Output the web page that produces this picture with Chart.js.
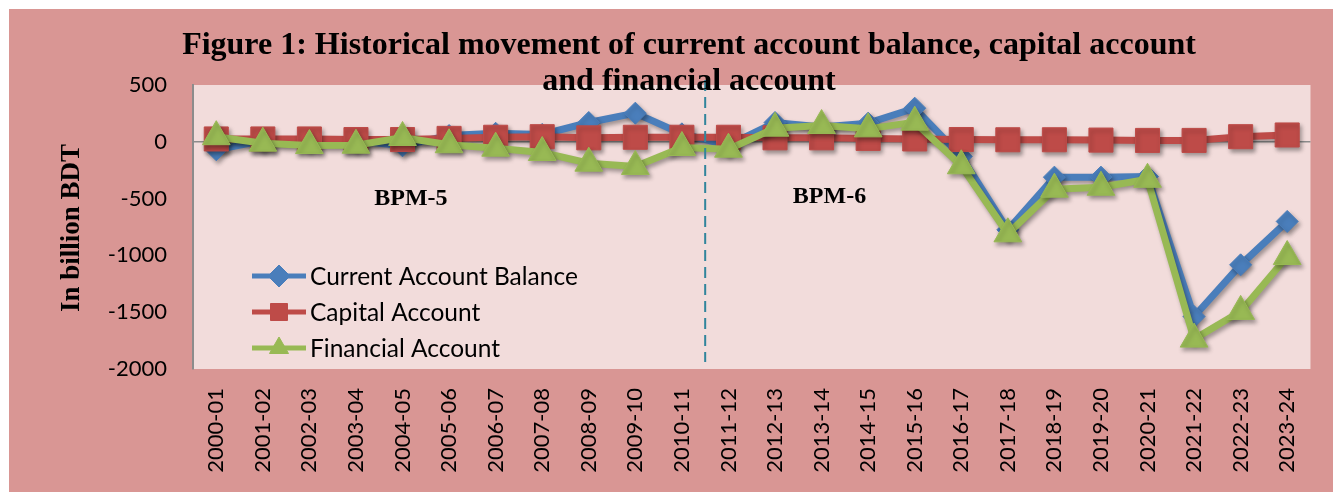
<!DOCTYPE html>
<html>
<head>
<meta charset="utf-8">
<script src="https://cdn.jsdelivr.net/npm/chart.js"></script>
<style>
  body { margin: 0; background: #fff; }
  canvas { display: block; }
</style>
</head>
<body>
<canvas id="bop_chart" width="1333" height="492"></canvas>
<script>
var years = ["2000-01", "2001-02", "2002-03", "2003-04", "2004-05", "2005-06", "2006-07", "2007-08",
    "2008-09", "2009-10", "2010-11", "2011-12", "2012-13", "2013-14", "2014-15", "2015-16",
    "2016-17", "2017-18", "2018-19", "2019-20", "2020-21", "2021-22", "2022-23", "2023-24"];
var currentAccount = [-70, 10, 10, 10, -35, 55, 75, 65, 170, 252, 70, -30,
    170, 130, 164, 296, -129, -775, -311, -311, -306, -1538, -1083, -701];
var capitalAccount = [25, 25, 25, 20, 20, 30, 40, 45, 35, 40, 40, 40,
    35, 35, 30, 25, 20, 18, 18, 15, 12, 12, 45, 60];
var financialAccount = [45, -12, -33, -30, 38, -26, -56, -94, -188, -217, -50, -65,
    120, 143, 114, 173, -211, -810, -417, -400, -330, -1737, -1493, -1010];
var yTicks = [500, 0, -500, -1000, -1500, -2000];

var BLUE = '#4A7EBB', RED = '#BE4B48', GREEN = '#98B954';

//backgrounds, shadow, title, legend, notes
var decor = {
    id: 'decor',
    beforeDraw: function (chart) {
        var ctx = chart.ctx, a = chart.chartArea;
        ctx.save();
        ctx.fillStyle = '#ffffff';
        ctx.fillRect(0, 0, chart.width, chart.height);
        ctx.fillStyle = '#D99694';
        ctx.fillRect(9, 9, chart.width - 9, chart.height - 9);
        ctx.fillStyle = '#F2DCDB';
        ctx.fillRect(a.left, a.top, a.right - a.left, a.bottom - a.top);
        ctx.restore();
    },
    beforeDatasetsDraw: function (chart) {
        var ctx = chart.ctx;
        ctx.save();
        ctx.shadowColor = 'rgba(0,0,0,0.35)';
        ctx.shadowBlur = 4;
        ctx.shadowOffsetX = 2;
        ctx.shadowOffsetY = 3;
    },
    afterDatasetsDraw: function (chart) {
        chart.ctx.restore();
    },
    afterDraw: function (chart) {
        var ctx = chart.ctx, a = chart.chartArea;
        var x = chart.scales.x, y = chart.scales.y;
        ctx.save();

        // divider BPM-5 / BPM-6
        var xd = x.getPixelForValue(10.5);
        ctx.strokeStyle = '#31859C';
        ctx.lineWidth = 2;
        ctx.setLineDash([11, 6]);
        ctx.beginPath();
        ctx.moveTo(xd, a.top - 5);
        ctx.lineTo(xd, a.bottom - 7);
        ctx.stroke();
        ctx.setLineDash([]);

        ctx.fillStyle = '#000';
        ctx.textAlign = 'center';
        ctx.textBaseline = 'middle';
        ctx.font = 'bold 24px "Liberation Serif", "Times New Roman", serif';
        ctx.fillText('BPM-5', x.getPixelForValue(4.18), y.getPixelForValue(-500));
        ctx.fillText('BPM-6', x.getPixelForValue(13.17), y.getPixelForValue(-480));

        // title
        ctx.textBaseline = 'alphabetic';
        ctx.font = 'bold 32px "Liberation Serif", "Times New Roman", serif';
        ctx.fillText('Figure 1: Historical movement of current account balance, capital account', 689, 54);
        ctx.fillText('and financial account', 689, 90);

        // y axis title
        ctx.save();
        ctx.translate(72, 228);
        ctx.rotate(-Math.PI / 2);
        ctx.font = 'bold 27px "Liberation Serif", "Times New Roman", serif';
        ctx.textBaseline = 'middle';
        ctx.fillText('In billion BDT', 0, 0);
        ctx.restore();

        // legend
        ctx.textAlign = 'left';
        ctx.textBaseline = 'middle';
        ctx.font = '24.5px Lato, sans-serif';
        chart.data.datasets.forEach(function (ds, i) {
            var ly = 276 + i * 36;
            ctx.strokeStyle = ds.borderColor;
            ctx.lineWidth = 5;
            ctx.beginPath();
            ctx.moveTo(252, ly);
            ctx.lineTo(306, ly);
            ctx.stroke();
            ctx.fillStyle = ds.borderColor;
            ctx.strokeStyle = ds.borderColor;
            ctx.lineWidth = 1;
            Chart.helpers.drawPoint(ctx, {
                pointStyle: ds.pointStyle,
                radius: ds.pointStyle === 'rect' ? 12 : 11,
                rotation: 0,
                borderWidth: 1
            }, 279, ly);
            ctx.fillStyle = '#000';
            ctx.fillText(ds.label, 310, ly + 1);
        });
        ctx.restore();
    }
};

new Chart(document.getElementById('bop_chart').getContext('2d'), {
    type: 'line',
    data: {
        labels: years,
        datasets: [{
            label: 'Current Account Balance',
            data: currentAccount,
            borderColor: BLUE,
            backgroundColor: BLUE,
            borderWidth: 7,
            pointStyle: 'rectRot',
            pointRadius: 11,
            pointBorderWidth: 1,
            order: 3
        }, {
            label: 'Capital Account',
            data: capitalAccount,
            borderColor: RED,
            backgroundColor: RED,
            borderWidth: 7,
            pointStyle: 'rect',
            pointRadius: 17,
            pointBorderWidth: 1,
            order: 2
        }, {
            label: 'Financial Account',
            data: financialAccount,
            borderColor: GREEN,
            backgroundColor: GREEN,
            borderWidth: 7,
            pointStyle: 'triangle',
            pointRadius: 16,
            pointBorderWidth: 1,
            order: 1
        }]
    },
    options: {
        responsive: false,
        animation: false,
        devicePixelRatio: 1,
        clip: false,
        layout: { padding: { left: 9, top: 85, right: 19, bottom: 0 } },
        plugins: {
            legend: { display: false },
            title: { display: false },
            tooltip: { enabled: false }
        },
        elements: { line: { tension: 0 } },
        scales: {
            x: {
                type: 'category',
                offset: true,
                grid: { display: false, drawTicks: false },
                border: { display: false },
                ticks: {
                    autoSkip: false,
                    minRotation: 90,
                    maxRotation: 90,
                    padding: 19,
                    color: '#000',
                    font: { family: 'Lato', size: 22 }
                },
                afterFit: function (scale) { scale.height = 123; }
            },
            y: {
                min: -2000,
                max: 500,
                afterBuildTicks: function (scale) {
                    scale.ticks = yTicks.map(function (v) { return { value: v }; });
                },
                grid: {
                    drawTicks: false,
                    lineWidth: 1.5,
                    color: function (c) { return c.tick && c.tick.value === 0 ? '#8c8c8c' : 'rgba(0,0,0,0)'; }
                },
                border: { display: true, color: '#8c8c8c', width: 2 },
                ticks: {
                    padding: 26,
                    color: '#000',
                    font: { family: 'Lato', size: 22 },
                    callback: function (v) { return String(v); }
                },
                afterFit: function (scale) { scale.width = 184; }
            }
        }
    },
    plugins: [decor]
});
</script>
</body>
</html>
